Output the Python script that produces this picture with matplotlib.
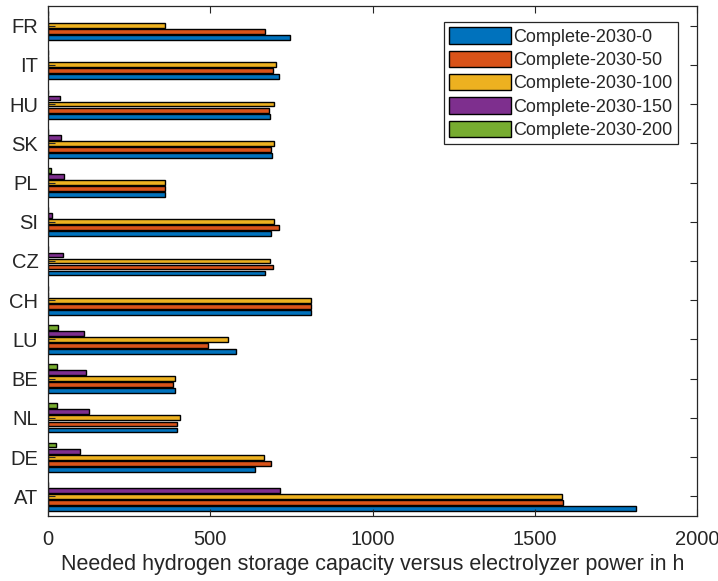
import numpy as np
import matplotlib
matplotlib.use("Agg")
import matplotlib.pyplot as plt

plt.rcParams['font.family'] = ['Liberation Sans', 'DejaVu Sans']

countries = ["AT", "DE", "NL", "BE", "LU", "CH", "CZ", "SI", "PL", "SK", "HU", "IT", "FR"]
series_names = ["Complete-2030-0", "Complete-2030-50", "Complete-2030-100",
                "Complete-2030-150", "Complete-2030-200"]

s0 = [1812, 637, 398, 390, 580, 810, 669, 688, 361, 691, 683, 711, 745]
s50 = [1588, 687, 397, 386, 494, 810, 694, 711, 361, 686, 680, 694, 669]
s100 = [1584, 666, 406, 390, 555, 810, 683, 695, 361, 695, 695, 703, 361]
s150 = [715, 98, 127, 118, 110, 0, 45, 12, 49, 40, 36, 0, 0]
s200 = [0, 24, 28, 28, 32, 0, 0, 0, 8, 0, 0, 0, 0]

colors = ["#0072BD", "#D95319", "#EDB120", "#7E2F8E", "#77AC30"]
dark = "#262626"

fig = plt.figure(figsize=(7.18, 5.81), dpi=100)
ax = fig.add_axes([0.0669, 0.1119, 0.9039, 0.8778])

data = [s0, s50, s100, s150, s200]
n = len(data)
pos = np.arange(1, len(countries) + 1)
slot = 0.154
for i, (vals, c, name) in enumerate(zip(data, colors, series_names)):
    off = (i - (n - 1) / 2) * slot
    ax.barh(pos + off, vals, height=slot * 0.8, color=c, edgecolor="black",
            linewidth=1.0, label=name)

ax.set_xlim(0, 2000)
ax.set_ylim(0.5, len(countries) + 0.5)
ax.set_xticks([0, 500, 1000, 1500, 2000])
ax.set_yticks(pos)
ax.set_yticklabels(countries)
ax.tick_params(direction="in", top=True, right=True, length=5, width=0.8,
               colors=dark, labelsize=14.5)
ax.tick_params(axis="x", pad=10)
ax.tick_params(axis="y", pad=7)
for sp in ax.spines.values():
    sp.set_color(dark)
    sp.set_linewidth(0.9)

ax.set_xlabel("Needed hydrogen storage capacity versus electrolyzer power in h",
              fontsize=15.5, color=dark, labelpad=4)

leg = ax.legend(loc="upper right", bbox_to_anchor=(0.9707, 0.9686), fontsize=13,
                frameon=True, fancybox=False, framealpha=1, edgecolor=dark,
                handlelength=3.4, handleheight=1.0, handletextpad=0.15,
                labelspacing=0.28, borderpad=0.3, borderaxespad=0)
leg.get_frame().set_linewidth(0.9)
for t in leg.get_texts():
    t.set_color(dark)

fig.savefig("out.png", dpi=100)
